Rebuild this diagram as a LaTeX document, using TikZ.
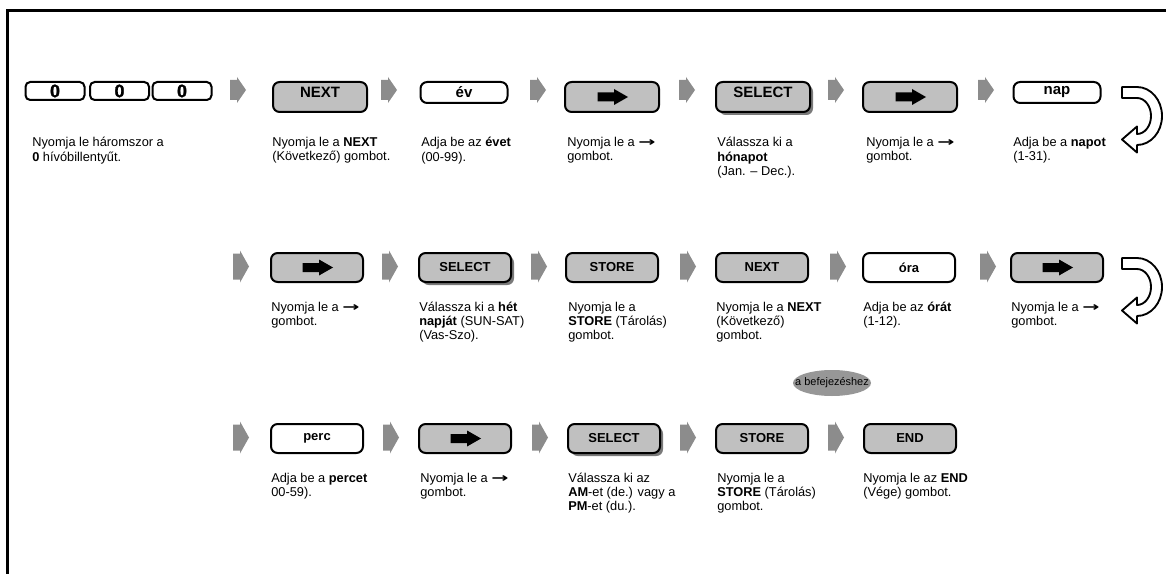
\documentclass[tikz,border=0pt]{standalone}
\usepackage{fontspec}
\setmainfont{Liberation Sans}
\newfontfamily\heavyfont{Liberation Sans}[FakeBold=1.5]
\newfontfamily\symbolfont{DejaVu Sans}
\usepackage{graphicx}
\usepackage{tikz}
\usetikzlibrary{arrows.meta,positioning,shapes.geometric,shadows}
\usepackage{xcolor}
\definecolor{keygrey}{HTML}{C0C0C0}
\definecolor{flowgrey}{HTML}{8C8C8C}
\definecolor{shadowgrey}{HTML}{7A7A7A}
\newcommand{\arrowsym}{\scalebox{1.6}[1]{\symbolfont\bfseries →}}

\begin{document}
\setlength{\lineskiplimit}{-20pt}
\begin{tikzpicture}[
  x=0.75pt, y=-0.75pt,
  font=\fontsize{9.6}{10.8}\selectfont,
  key/.style={draw, line width=1.5pt, rounded corners=5pt, fill=keygrey, inner sep=0pt, minimum width=69pt, minimum height=21.75pt},
  toprow/.style={minimum width=70.5pt, minimum height=22.5pt},
  shortkey/.style={minimum width=65.25pt, minimum height=15.75pt},
  blank/.style={fill=white},
  zero/.style={draw, line width=1.5pt, rounded corners=3.5pt, fill=white, inner sep=0pt, minimum width=44.25pt, minimum height=13.5pt, font=\heavyfont\fontsize{13.5}{14}\selectfont\bfseries},
  keytext/.style={inner sep=0pt, font=\fontsize{9.75}{10}\selectfont\bfseries},
  bigtext/.style={inner sep=0pt, font=\fontsize{11.25}{12}\selectfont\bfseries},
  raised/.style={yshift=3.75pt},
  shade/.style={drop shadow={shadow xshift=2.25pt, shadow yshift=-2.25pt, fill=shadowgrey, opacity=1}},
  flow/.style={fill=flowgrey},
  pointer/.style={fill=black},
  desc/.style={anchor=north west, align=left, inner sep=0pt},
  uturn/.style={draw, line width=1.4pt, fill=white, line join=round},
  tag/.style={ellipse, fill=flowgrey!90, inner sep=0pt, minimum width=58.5pt, minimum height=19.5pt},
  tagtext/.style={inner sep=0pt, font=\fontsize{8.2}{8.5}\selectfont}
]
\useasboundingbox (0,0) rectangle (1166,574);
\draw[line width=2pt] (7.5,574) -- (7.5,10.5) -- (1166,10.5);

\node[zero] (zero1) at (55,91) {0};
\node[zero] (zero2) at (119.5,91) {0};
\node[zero] (zero3) at (182,91) {0};
\node[key, toprow, label={[bigtext, raised]center:NEXT}] (k12) at (320,97) {};
\node[key, blank, shortkey, label={[bigtext]center:év}] (k13) at (464,92.5) {};
\node[key, toprow] (k14) at (612,97) {};
\node[key, toprow, shade, label={[bigtext, raised]center:SELECT}] (k15) at (763,97) {};
\node[key, toprow] (k16) at (910,97) {};
\node[key, blank, shortkey, label={[bigtext]center:nap}] (k17) at (1057,92.5) {};
\foreach \x in {238,389,538,687,836,986}
  \fill[flow] (\x-8,80) -- (\x-1,80) -- (\x-1,77) -- (\x+8,90) -- (\x-1,103) -- (\x-1,100) -- (\x-8,100) -- cycle;
\draw[uturn, shift={(1137,116)}] (-15,-29) -- (0,-29) arc[start angle=-90, end angle=90, x radius=25, y radius=29] -- (0,36.5) -- (-15,23.5) -- (0,10.5) -- (0,18) arc[start angle=90, end angle=-90, x radius=14, y radius=18] -- (-15,-18) -- cycle;

\node[desc] (d11) at (32,137) {Nyomja le háromszor a\\\textbf{0} hívóbillentyűt.};
\node[desc] (d12) at (272,137) {Nyomja le a \textbf{NEXT}\\(Következő) gombot.};
\node[desc] (d13) at (421,137) {Adja be az \textbf{évet}\\(00-99).};
\node[desc] (d14) at (567,137) {Nyomja le a \arrowsym\\gombot.};
\node[desc] (d15) at (717,137) {Válassza ki a\\\textbf{hónapot}\\(Jan. – Dec.).};
\node[desc] (d16) at (866,137) {Nyomja le a \arrowsym\\gombot.};
\node[desc] (d17) at (1013,137) {Adja be a \textbf{napot}\\(1-31).};

\node[key] (k21) at (317,267.5) {};
\node[key, shade, label={[keytext]center:SELECT}] (k22) at (465,267.5) {};
\node[key, label={[keytext]center:STORE}] (k23) at (612,267.5) {};
\node[key, label={[keytext]center:NEXT}] (k24) at (762,267.5) {};
\node[key, blank, label={[keytext]center:óra}] (k25) at (909,267.5) {};
\node[key] (k26) at (1057,267.5) {};
\foreach \x in {241,390,539,688,838,988}
  \fill[flow] (\x-8,253.5) -- (\x-1,253.5) -- (\x-1,250.5) -- (\x+8,266.5) -- (\x-1,282.5) -- (\x-1,279.5) -- (\x-8,279.5) -- cycle;
\draw[uturn, shift={(1137,287)}] (-15,-29) -- (0,-29) arc[start angle=-90, end angle=90, x radius=25, y radius=29] -- (0,36.5) -- (-15,23.5) -- (0,10.5) -- (0,18) arc[start angle=90, end angle=-90, x radius=14, y radius=18] -- (-15,-18) -- cycle;

\node[desc] (d21) at (271,301.5) {Nyomja le a \arrowsym\\gombot.};
\node[desc] (d22) at (419,301.5) {Válassza ki a \textbf{hét}\\\textbf{napját} (SUN-SAT)\\(Vas-Szo).};
\node[desc] (d23) at (568,301.5) {Nyomja le a\\\textbf{STORE} (Tárolás)\\gombot.};
\node[desc] (d24) at (716,301.5) {Nyomja le a \textbf{NEXT}\\(Következő)\\gombot.};
\node[desc] (d25) at (863,301.5) {Adja be az \textbf{órát}\\(1-12).};
\node[desc] (d26) at (1011,301.5) {Nyomja le a \arrowsym\\gombot.};

\node[tag, label={[tagtext]center:a befejezéshez}] (tag1) at (832,383) {};

\node[key, blank, label={[keytext]center:perc}] (k31) at (317,438.5) {};
\node[key] (k32) at (465,438.5) {};
\node[key, shade, label={[keytext]center:SELECT}] (k33) at (614,438.5) {};
\node[key, label={[keytext]center:STORE}] (k34) at (762,438.5) {};
\node[key, label={[keytext]center:END}] (k35) at (910,438.5) {};
\foreach \x in {241,391,540,688,836}
  \fill[flow] (\x-8,424.5) -- (\x-1,424.5) -- (\x-1,421.5) -- (\x+8,437.5) -- (\x-1,453.5) -- (\x-1,450.5) -- (\x-8,450.5) -- cycle;

\foreach \k in {k14,k16,k21,k26,k32}
  \fill[pointer, shift={(\k.center)}] (-14.5,-4.5) -- (2,-4.5) -- (2,-8) -- (16,0) -- (2,8) -- (2,4.5) -- (-14.5,4.5) -- cycle;

\node[desc] (d31) at (271,472.5) {Adja be a \textbf{percet}\\00-59).};
\node[desc] (d32) at (420,472.5) {Nyomja le a \arrowsym\\gombot.};
\node[desc] (d33) at (568,472.5) {Válassza ki az\\\textbf{AM}-et (de.) vagy a\\\textbf{PM}-et (du.).};
\node[desc] (d34) at (717,472.5) {Nyomja le a\\\textbf{STORE} (Tárolás)\\gombot.};
\node[desc] (d35) at (863,472.5) {Nyomja le az \textbf{END}\\(Vége) gombot.};
\end{tikzpicture}
\end{document}
